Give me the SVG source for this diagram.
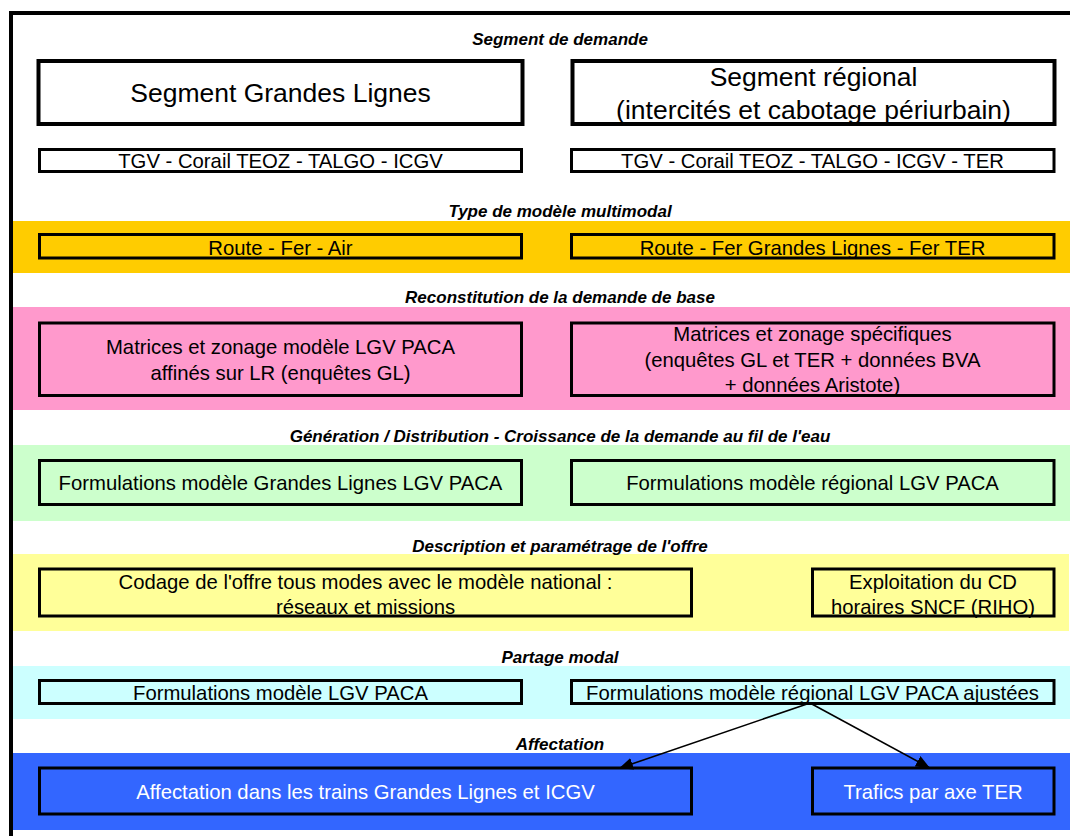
<svg xmlns="http://www.w3.org/2000/svg" width="1070" height="836" viewBox="0 0 1070 836">
<style>
.title{font-family:"Liberation Sans",Arial,sans-serif;font-size:17px;font-weight:bold;font-style:italic;fill:#000;text-anchor:middle}
.t{font-family:"Liberation Sans",Arial,sans-serif;font-size:20.3px;fill:#000;text-anchor:middle}
.big{font-family:"Liberation Sans",Arial,sans-serif;font-size:26.5px;fill:#000;text-anchor:middle}
.w{fill:#fff}
.box{stroke:#000;stroke-width:3}
.bigbox{fill:#fff;stroke:#000;stroke-width:4}
.conn{stroke:#000;stroke-width:1.6;fill:none}
</style>
<defs>
<marker id="ah" markerUnits="userSpaceOnUse" markerWidth="14" markerHeight="12" viewBox="0 0 14 12" refX="13" refY="6" orient="auto">
<path d="M0,0 L14,6 L0,12 Z" fill="#000"/>
</marker>
</defs>
<rect x="0" y="0" width="1070" height="836" fill="#fff"/>
<!-- bands -->
<rect x="13" y="221" width="1057" height="52" fill="#FFCC00"/>
<rect x="13" y="307" width="1057" height="103" fill="#FF99CC"/>
<rect x="13" y="445" width="1057" height="76" fill="#CCFFCC"/>
<rect x="13" y="554" width="1056" height="77" fill="#FFFF99"/>
<rect x="13" y="666" width="1057" height="53" fill="#CCFFFF"/>
<rect x="13" y="753" width="1057" height="77" fill="#3366FF"/>
<!-- frame -->
<path d="M11,836 V13 H1070" fill="none" stroke="#000" stroke-width="4"/>
<!-- section titles -->
<text class="title" x="560" y="44.5">Segment de demande</text>
<text class="title" x="560" y="217">Type de modèle multimodal</text>
<text class="title" x="560" y="303">Reconstitution de la demande de base</text>
<text class="title" x="560" y="442">Génération / Distribution - Croissance de la demande au fil de l'eau</text>
<text class="title" x="560" y="551.5">Description et paramétrage de l'offre</text>
<text class="title" x="560" y="663">Partage modal</text>
<text class="title" x="560" y="749.5">Affectation</text>
<!-- nodes -->
<g id="seg-gl"><rect class="bigbox" x="38.5" y="61" width="484" height="63"/><text class="big" x="280.5" y="102">Segment Grandes Lignes</text></g>
<g id="seg-reg"><rect class="bigbox" x="572.5" y="61" width="482" height="63"/><text class="big" x="813.5" y="86">Segment régional</text><text class="big" x="813.5" y="118.5">(intercités et cabotage périurbain)</text></g>
<g id="tgv-gl"><rect class="box" fill="#fff" x="39.5" y="149.5" width="482" height="22"/><text class="t" x="280.5" y="168">TGV - Corail TEOZ - TALGO - ICGV</text></g>
<g id="tgv-reg"><rect class="box" fill="#fff" x="571.5" y="149.5" width="482.5" height="22"/><text class="t" x="812.5" y="168">TGV - Corail TEOZ - TALGO - ICGV - TER</text></g>
<g id="mode-gl"><rect class="box" fill="#FFCC00" x="39.5" y="234.5" width="482" height="23.5"/><text class="t" x="280.5" y="254.5">Route - Fer - Air</text></g>
<g id="mode-reg"><rect class="box" fill="#FFCC00" x="571.5" y="234.5" width="482.5" height="23.5"/><text class="t" x="812.5" y="254.5">Route - Fer Grandes Lignes - Fer TER</text></g>
<g id="base-gl"><rect class="box" fill="#FF99CC" x="39.5" y="323" width="482" height="72.5"/><text class="t" x="280.5" y="354">Matrices et zonage modèle LGV PACA</text><text class="t" x="280.5" y="380">affinés sur LR (enquêtes GL)</text></g>
<g id="base-reg"><rect class="box" fill="#FF99CC" x="571.5" y="323" width="482.5" height="72.5"/><text class="t" x="812.5" y="341">Matrices et zonage spécifiques</text><text class="t" x="812.5" y="367">(enquêtes GL et TER + données BVA</text><text class="t" x="812.5" y="392">+ données Aristote)</text></g>
<g id="gen-gl"><rect class="box" fill="#CCFFCC" x="39.5" y="460.5" width="482" height="44"/><text class="t" x="280.5" y="490">Formulations modèle Grandes Lignes LGV PACA</text></g>
<g id="gen-reg"><rect class="box" fill="#CCFFCC" x="571.5" y="460.5" width="482.5" height="44"/><text class="t" x="812.5" y="490">Formulations modèle régional LGV PACA</text></g>
<g id="offre-nat"><rect class="box" fill="#FFFF99" x="39.5" y="569" width="652" height="47"/><text class="t" x="365.5" y="589">Codage de l'offre tous modes avec le modèle national :</text><text class="t" x="365.5" y="614">réseaux et missions</text></g>
<g id="offre-cd"><rect class="box" fill="#FFFF99" x="812.5" y="569" width="241.5" height="47"/><text class="t" x="933" y="589">Exploitation du CD</text><text class="t" x="933" y="614">horaires SNCF (RIHO)</text></g>
<g id="modal-gl"><rect class="box" fill="#CCFFFF" x="39.5" y="680.5" width="482" height="23"/><text class="t" x="280.5" y="700">Formulations modèle LGV PACA</text></g>
<g id="modal-reg"><rect class="box" fill="#CCFFFF" x="571.5" y="680.5" width="482.5" height="23"/><text class="t" x="812.5" y="700">Formulations modèle régional LGV PACA ajustées</text></g>
<g id="aff-gl"><rect class="box" fill="#3366FF" x="39.5" y="768" width="652" height="46"/><text class="t w" x="365.5" y="799">Affectation dans les trains Grandes Lignes et ICGV</text></g>
<g id="aff-ter"><rect class="box" fill="#3366FF" x="812.5" y="768" width="241.5" height="46"/><text class="t w" x="933" y="799">Trafics par axe TER</text></g>
<!-- connectors -->
<g id="connectors">
<line class="conn" x1="810" y1="703" x2="620" y2="768" marker-end="url(#ah)"/>
<line class="conn" x1="810" y1="703" x2="929" y2="767.5" marker-end="url(#ah)"/>
</g>
</svg>
